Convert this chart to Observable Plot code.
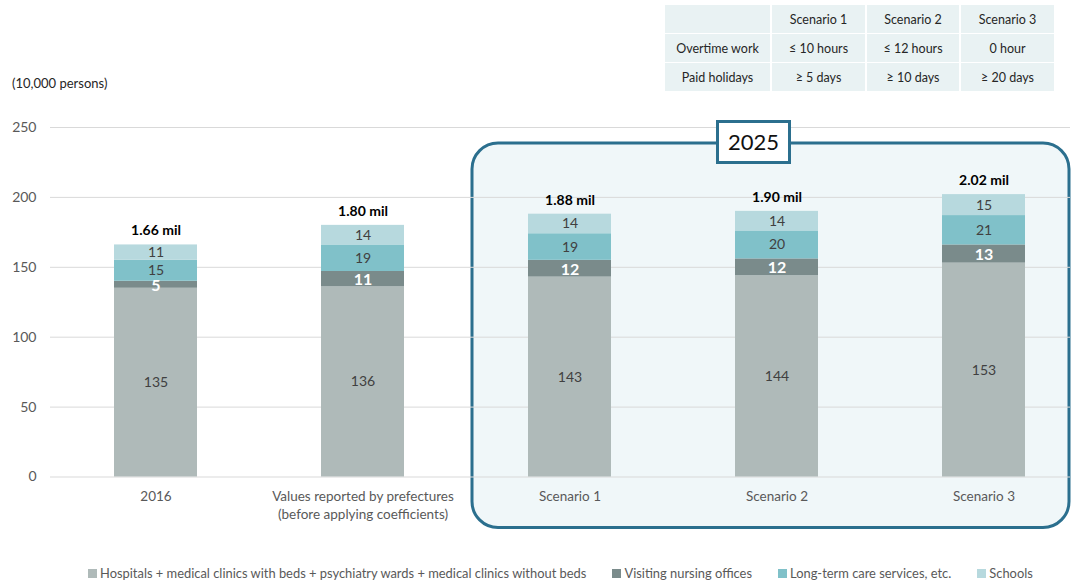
<!DOCTYPE html>
<html><head><meta charset="utf-8">
<script src="https://cdn.jsdelivr.net/npm/d3@7"></script>
<script src="https://cdn.jsdelivr.net/npm/@observablehq/plot@0.6"></script>
<style>
body{margin:0;background:#fff;font-family:Lato,sans-serif;}
#wrap{position:relative;width:1075px;height:582px;overflow:hidden;}
#unit{position:absolute;left:12px;top:75px;font-size:13px;color:#262626;}
#tbl{position:absolute;left:663px;top:4px;border-collapse:separate;border-spacing:2px 1px;font-size:12.5px;color:#262626;table-layout:fixed;}
#tbl td{box-sizing:border-box;background:#e9f2f3;height:28px;padding:0;text-align:center;border:none;}
#legend{position:absolute;left:88px;top:565px;display:flex;align-items:center;font-size:12.9px;color:#595959;white-space:nowrap;}
#legend .it{display:flex;align-items:center;margin-right:26px;}
#legend .sw{width:9px;height:9px;margin-right:3px;}
#chart{position:absolute;left:0;top:0;}
</style></head>
<body>
<div id="wrap">
  <div id="chart"></div>
  <div id="unit">(10,000 persons)</div>
  <table id="tbl"></table>
  <div id="legend"></div>
</div>
<script>
const categories = ["2016", "Values reported by prefectures\n(before applying coefficients)", "Scenario 1", "Scenario 2", "Scenario 3"];
const seriesNames = ["Hospitals + medical clinics with beds + psychiatry wards + medical clinics without beds", "Visiting nursing offices", "Long-term care services, etc.", "Schools"];
const seriesColors = ["#afbab9", "#7a8b8b", "#80c1c9", "#b7d9de"];
const hospitals = [135, 136, 143, 144, 153];
const visiting = [5, 11, 12, 12, 13];
const longTerm = [15, 19, 19, 20, 21];
const schools = [11, 14, 14, 14, 15];
const totalLabels = ["1.66 mil", "1.80 mil", "1.88 mil", "1.90 mil", "2.02 mil"];
const yTicks = [0, 50, 100, 150, 200, 250];
const boxLabel = "2025";
const tableHeader = ["", "Scenario 1", "Scenario 2", "Scenario 3"];
const tableOvertime = ["Overtime work", "≤ 10 hours", "≤ 12 hours", "0 hour"];
const tableHolidays = ["Paid holidays", "≥ 5 days", "≥ 10 days", "≥ 20 days"];

// table
const tbl = document.getElementById("tbl");
const colW = [105, 93, 92, 93];
[tableHeader, tableOvertime, tableHolidays].forEach(r => {
  const tr = document.createElement("tr");
  r.forEach((c, i) => {
    const td = document.createElement("td");
    td.textContent = c;
    td.style.width = colW[i] + "px";
    tr.appendChild(td);
  });
  tbl.appendChild(tr);
});

// legend
const lg = document.getElementById("legend");
seriesNames.forEach((s, i) => {
  const it = document.createElement("div"); it.className = "it";
  const sw = document.createElement("div"); sw.className = "sw"; sw.style.background = seriesColors[i];
  const tx = document.createElement("span"); tx.textContent = s;
  it.appendChild(sw); it.appendChild(tx); lg.appendChild(it);
});

// data
const seriesValues = [hospitals, visiting, longTerm, schools];
const rows = [];
categories.forEach((c, i) => {
  let acc = 0;
  seriesNames.forEach((s, j) => {
    const v = seriesValues[j][i];
    rows.push({category: c, series: s, value: v, y1: acc, y2: acc + v, mid: acc + v / 2});
    acc += v;
  });
});
const totals = categories.map((c, i) => ({
  category: c,
  total: seriesValues.reduce((a, arr) => a + arr[i], 0),
  label: totalLabels[i]
}));

const plot = Plot.plot({
  width: 1075, height: 555,
  marginTop: 127, marginBottom: 78.5, marginLeft: 50, marginRight: 5,
  style: {fontFamily: "Lato, sans-serif", background: "transparent"},
  x: {domain: categories, range: [51.5, 1088], paddingInner: 0.6, paddingOuter: 0.3, label: null},
  y: {domain: [0, 250], label: null},
  color: {domain: seriesNames, range: seriesColors},
  marks: [
    Plot.ruleY(yTicks, {stroke: "#d9d9d9", strokeWidth: 1, className: "gridlines"}),
    Plot.rectY(rows, {x: "category", y1: "y1", y2: "y2", fill: "series"}),
    Plot.text(rows, {x: "category", y: "mid", text: d => d.series === seriesNames[1] ? "" : d.value, fill: "#404040", fontSize: 14}),
    Plot.text(rows, {x: "category", y: "mid", text: d => d.series === seriesNames[1] ? d.value : "", fill: "#fff", fontSize: 16, fontWeight: "bold", dy: 1}),
    Plot.text(totals, {x: "category", y: "total", text: "label", dy: -14, fontSize: 14, fontWeight: "bold", fill: "#000"}),
    Plot.axisY(yTicks, {tickSize: 0, tickPadding: 14, fontSize: 14, color: "#595959", label: null}),
    Plot.axisX({tickSize: 0, tickPadding: 11, fontSize: 13.5, color: "#595959", lineHeight: 1.35, label: null})
  ]
});

// 2025 group box, positioned with the chart's own scales
const sx = plot.scale("x"), sy = plot.scale("y");
const bw = sx.bandwidth;
const bx1 = sx.apply(categories[2]) - 56, bx2 = sx.apply(categories[4]) + bw + 44;
const by1 = sy.apply(250) + 16, by2 = sy.apply(0) + 51;
const svg = d3.select(plot);
const grid = plot.querySelector(".gridlines");
const bg = d3.create("svg:g");
bg.append("rect").attr("x", bx1).attr("y", by1).attr("width", bx2 - bx1).attr("height", by2 - by1)
  .attr("rx", 26).attr("fill", "#f0f7f9").attr("stroke", "#2b6f8e").attr("stroke-width", 3);
plot.insertBefore(bg.node(), grid);
const cx = (bx1 + bx2) / 2 - 17, cy = sy.apply(250) + 15;
const lw = 72, lh = 41;
const lab = svg.append("g");
lab.append("rect").attr("x", cx - lw / 2).attr("y", cy - lh / 2).attr("width", lw).attr("height", lh)
  .attr("fill", "#fff").attr("stroke", "#2b6f8e").attr("stroke-width", 3);
lab.append("text").attr("x", cx).attr("y", cy).attr("dy", "0.36em").attr("text-anchor", "middle")
  .attr("font-size", 22).attr("fill", "#111").text(boxLabel);

document.getElementById("chart").appendChild(plot);
</script>
</body></html>
